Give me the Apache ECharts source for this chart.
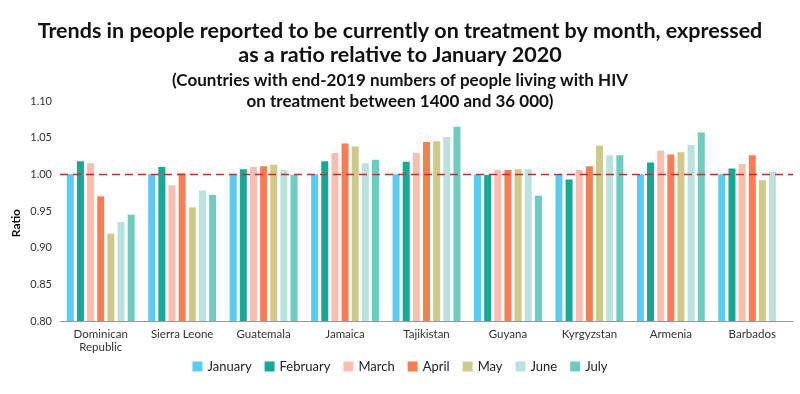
<!DOCTYPE html>
<html>
<head>
<meta charset="utf-8">
<script src="https://cdn.jsdelivr.net/npm/echarts@6/dist/echarts.min.js"></script>
<style>html,body{margin:0;padding:0;background:#fff;}#c{width:800px;height:394px;}</style>
</head>
<body>
<div id="c"></div>
<script>
const categories = ['Dominican\nRepublic','Sierra Leone','Guatemala','Jamaica','Tajikistan','Guyana','Kyrgyzstan','Armenia','Barbados'];
const months = ['January','February','March','April','May','June','July'];
const january  = [1.000, 1.000, 1.000, 1.000, 1.000, 1.000, 1.000, 1.000, 1.000];
const february = [1.018, 1.010, 1.007, 1.018, 1.017, 0.999, 0.993, 1.016, 1.008];
const march    = [1.015, 0.985, 1.010, 1.029, 1.029, 1.006, 1.006, 1.032, 1.014];
const april    = [0.970, 1.001, 1.011, 1.042, 1.044, 1.006, 1.011, 1.027, 1.026];
const may      = [0.919, 0.955, 1.013, 1.038, 1.045, 1.007, 1.039, 1.030, 0.992];
const june     = [0.935, 0.978, 1.006, 1.015, 1.051, 1.007, 1.026, 1.040, 1.004];
const july     = [0.945, 0.972, 0.999, 1.020, 1.065, 0.971, 1.026, 1.057, null];
const yTicks = { min: 0.80, max: 1.10, interval: 0.05 };
const colors = ['#5BCBF5','#17A995','#F9BEB1','#F47F56','#CFC98A','#BAE3DF','#6FCBBF'];
const seriesData = [january, february, march, april, may, june, july];

const chart = echarts.init(document.getElementById('c'));
const series = months.map((m, i) => ({
  name: m,
  type: 'bar',
  data: seriesData[i],
  barWidth: 7,
  barGap: '45%',
  itemStyle: { color: colors[i] },
  markLine: i === 0 ? {
    silent: true, symbol: 'none', label: { show: false },
    lineStyle: { color: '#E0212C', type: [8, 5], width: 1.3 },
    data: [{ yAxis: 1.0 }]
  } : undefined
}));

chart.setOption({
  animation: false,
  title: [{
    text: 'Trends in people reported to be currently on treatment by month, expressed\nas a ratio relative to January 2020',
    left: 'center', top: 14,
    textStyle: { fontFamily: 'Lato', fontWeight: 'bold', fontSize: 21.5, lineHeight: 24, color: '#111' }
  }, {
    text: '(Countries with end-2019 numbers of people living with HIV\non treatment between 1400 and 36 000)',
    left: 'center', top: 65,
    textStyle: { fontFamily: 'Lato', fontWeight: 'bold', fontSize: 17, lineHeight: 21, color: '#111' }
  }],
  graphic: [{
    type: 'text', left: 10, top: 209, rotation: Math.PI / 2,
    style: { text: 'Ratio', font: 'bold 12px Lato', fill: '#111' }
  }],
  legend: {
    data: months, bottom: 16, left: 'center',
    icon: 'rect', itemWidth: 10, itemHeight: 10, itemGap: 13,
    textStyle: { fontFamily: 'Lato', fontSize: 13, color: '#222' }
  },
  grid: { left: 60, right: 7, top: 101, bottom: 73 },
  xAxis: {
    type: 'category', data: categories,
    axisLine: { lineStyle: { color: '#999' } },
    axisTick: { show: false },
    axisLabel: { fontFamily: 'Lato', fontSize: 11.5, color: '#333', margin: 7, lineHeight: 13, interval: 0 }
  },
  yAxis: {
    type: 'value', min: yTicks.min, max: yTicks.max, interval: yTicks.interval,
    splitLine: { show: false }, axisLine: { show: false }, axisTick: { show: false },
    axisLabel: { fontFamily: 'Lato', fontSize: 11, color: '#333', margin: 8, formatter: v => v.toFixed(2) }
  },
  series: series
});
</script>
</body>
</html>
